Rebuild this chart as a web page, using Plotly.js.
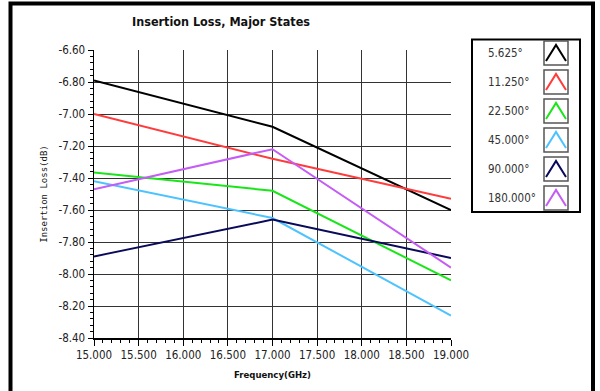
<!DOCTYPE html>
<html>
<head>
<meta charset="utf-8">
<script src="https://cdn.plot.ly/plotly-3.0.1.min.js"></script>
<style>html,body{margin:0;padding:0;background:#fff;}#chart{width:600px;height:391px;}</style>
</head>
<body>
<div id="chart"></div>
<script>
var freq = [15.0, 17.0, 19.0];
var seriesNames = ['5.625°', '11.250°', '22.500°', '45.000°', '90.000°', '180.000°'];
var s5625 = [-6.79, -7.08, -7.60];
var s11250 = [-7.00, -7.28, -7.53];
var s22500 = [-7.365, -7.48, -8.04];
var s45000 = [-7.42, -7.65, -8.26];
var s90000 = [-7.89, -7.66, -7.90];
var s180000 = [-7.47, -7.22, -7.96];
var seriesValues = [s5625, s11250, s22500, s45000, s90000, s180000];
var seriesColors = ['#000000', '#ff3b3b', '#19e619', '#4cc3ff', '#0a0a5a', '#c45cf5'];
var xTicks = [15, 15.5, 16, 16.5, 17, 17.5, 18, 18.5, 19];
var xTickText = ['15.000', '15.500', '16.000', '16.500', '17.000', '17.500', '18.000', '18.500', '19.000'];
var yTicks = [-6.6, -6.8, -7.0, -7.2, -7.4, -7.6, -7.8, -8.0, -8.2, -8.4];
var yTickText = ['-6.60', '-6.80', '-7.00', '-7.20', '-7.40', '-7.60', '-7.80', '-8.00', '-8.20', '-8.40'];

var W = 600, H = 391, ML = 94, MR = 149, MT = 50, MB = 53;
var PW = W - ML - MR, PH = H - MT - MB;
function px(x) { return (x - ML) / PW; }
function py(y) { return (H - MB - y) / PH; }

var narrow = '"DejaVu Sans Condensed", "Liberation Sans", sans-serif';

var traces = seriesValues.map(function (vals, i) {
  return {
    x: freq, y: vals, type: 'scatter', mode: 'lines', name: seriesNames[i],
    line: {color: seriesColors[i], width: 2}, showlegend: false, hoverinfo: 'skip'
  };
});

var shapes = [];
var annotations = [];
// outer frame
shapes.push({type: 'path', xref: 'paper', yref: 'paper',
  path: 'M ' + px(10.5) + ' ' + py(395) + ' L ' + px(10.5) + ' ' + py(3.5) + ' L ' + px(593) + ' ' + py(3.5) + ' L ' + px(593) + ' ' + py(395),
  line: {color: '#000', width: 4}});
// legend box
shapes.push({type: 'rect', xref: 'paper', yref: 'paper',
  x0: px(472), x1: px(580), y0: py(212), y1: py(39.5),
  line: {color: '#000', width: 2}, fillcolor: 'rgba(0,0,0,0)'});
var rowH = 29, row0 = 53;
seriesNames.forEach(function (n, i) {
  var cy = row0 + i * rowH;
  annotations.push({xref: 'paper', yref: 'paper', x: px(486), y: py(cy), xanchor: 'left', yanchor: 'middle',
    text: n, showarrow: false, font: {family: narrow, size: 11.5, color: '#333'}});
  shapes.push({type: 'rect', xref: 'paper', yref: 'paper',
    x0: px(544), x1: px(568), y0: py(cy + 12), y1: py(cy - 12),
    line: {color: '#555', width: 1.5}, fillcolor: '#fff'});
  shapes.push({type: 'path', xref: 'paper', yref: 'paper',
    path: 'M ' + px(546) + ' ' + py(cy + 8) + ' L ' + px(556) + ' ' + py(cy - 8) + ' L ' + px(566) + ' ' + py(cy + 8),
    line: {color: seriesColors[i], width: 2}});
});
// title
annotations.push({xref: 'paper', yref: 'paper', x: px(221), y: py(22), xanchor: 'center', yanchor: 'middle',
  text: '<b>Insertion Loss, Major States</b>', showarrow: false, font: {family: narrow, size: 12.5, color: '#111'}});

var layout = {
  width: W, height: H,
  margin: {l: ML, r: MR, t: MT, b: MB, pad: 0},
  paper_bgcolor: '#fff', plot_bgcolor: '#fff',
  showlegend: false,
  xaxis: {
    range: [15, 19], tickvals: xTicks, ticktext: xTickText,
    showgrid: true, gridcolor: '#333', gridwidth: 1,
    showline: true, linecolor: '#000', linewidth: 1.5, mirror: false,
    ticks: 'outside', ticklen: 6, tickcolor: '#000', tickwidth: 1,
    minor: {dtick: 0.1, ticks: 'outside', ticklen: 3, tickcolor: '#000', showgrid: false},
    tickfont: {family: narrow, size: 11.5, color: '#222'},
    zeroline: false,
    title: {text: '<b>Frequency(GHz)</b>', font: {family: narrow, size: 9.5, color: '#111'}, standoff: 10}
  },
  yaxis: {
    range: [-8.4, -6.6], tickvals: yTicks, ticktext: yTickText,
    showgrid: true, gridcolor: '#333', gridwidth: 1,
    showline: true, linecolor: '#000', linewidth: 1.5, mirror: false,
    ticks: 'outside', ticklen: 5, tickcolor: '#000', tickwidth: 1,
    minor: {dtick: 0.04, tick0: -6.6, ticks: 'outside', ticklen: 3, tickcolor: '#000', showgrid: false},
    tickfont: {family: narrow, size: 11.5, color: '#222'},
    zeroline: false,
    title: {text: 'Insertion Loss(dB)', font: {family: '"DejaVu Sans Mono", monospace', size: 9, color: '#111'}, standoff: 9}
  },
  shapes: shapes,
  annotations: annotations
};

Plotly.newPlot('chart', traces, layout, {staticPlot: true, displayModeBar: false});
</script>
</body>
</html>
